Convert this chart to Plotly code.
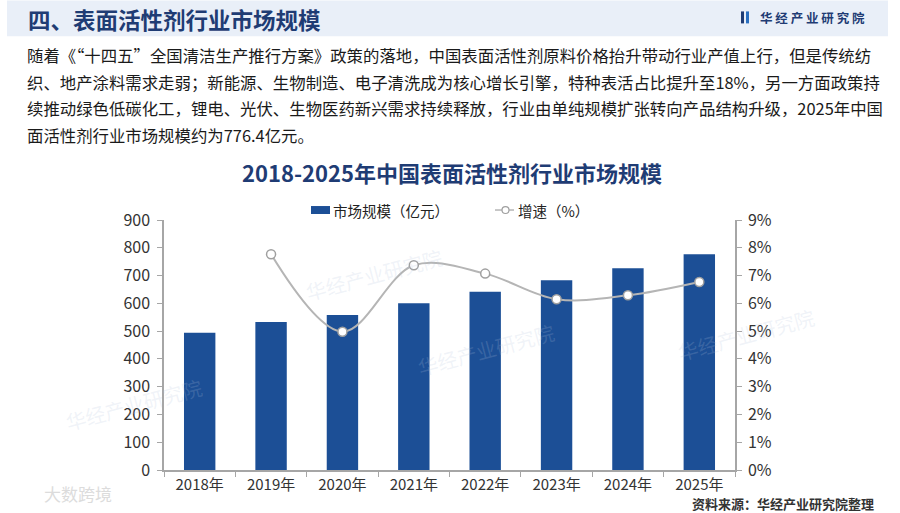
import plotly.graph_objects as go

years = ["2018年", "2019年", "2020年", "2021年", "2022年", "2023年", "2024年", "2025年"]
market_size = [494, 533, 558, 600, 642, 683, 726, 776.4]
growth_years = ["2019年", "2020年", "2021年", "2022年", "2023年", "2024年", "2025年"]
growth_rate = [7.77, 4.98, 7.37, 7.07, 6.15, 6.29, 6.77]

W, H = 900, 513
L, R, T, B = 164, 735, 220, 470.5

def px_x(x):
    return (x - L) / (R - L)

def px_y(y):
    return (B - y) / (B - T)

FONT = "Noto Sans CJK SC"
BLUE = "#1c4f96"
DARK = "#1f3c74"
GRAY_LINE = "#b5b5b5"

fig = go.Figure()
fig.add_trace(go.Bar(
    x=years, y=market_size, name="市场规模（亿元）",
    marker=dict(color=BLUE, line=dict(width=0)), width=0.44, showlegend=False,
))
fig.add_trace(go.Scatter(
    x=growth_years, y=growth_rate, name="增速（%）", yaxis="y2",
    mode="lines+markers", showlegend=False,
    line=dict(color=GRAY_LINE, width=2, shape="spline", smoothing=1.0),
    marker=dict(symbol="circle", size=9, color="white",
                line=dict(color="#a0a0a0", width=1.5)),
))

shapes = [
    dict(type="rect", xref="paper", yref="paper",
         x0=px_x(7), x1=px_x(888), y0=px_y(36), y1=px_y(0),
         fillcolor="#e9eff8", line=dict(width=0), layer="below"),
    # logo mark
    dict(type="rect", xref="paper", yref="paper",
         x0=px_x(741), x1=px_x(744), y0=px_y(23), y1=px_y(11),
         fillcolor="#1f3c74", line=dict(width=0)),
    dict(type="rect", xref="paper", yref="paper",
         x0=px_x(746), x1=px_x(749), y0=px_y(23), y1=px_y(11),
         fillcolor="#2a6fc0", line=dict(width=0)),
    # manual legend
    dict(type="rect", xref="paper", yref="paper",
         x0=px_x(311), x1=px_x(330), y0=px_y(214), y1=px_y(206),
         fillcolor=BLUE, line=dict(width=0)),
    dict(type="line", xref="paper", yref="paper",
         x0=px_x(495), x1=px_x(514), y0=px_y(210), y1=px_y(210),
         line=dict(color=GRAY_LINE, width=1.5)),
    dict(type="circle", xref="paper", yref="paper",
         x0=px_x(502), x1=px_x(509), y0=px_y(213.5), y1=px_y(206.5),
         fillcolor="white", line=dict(color="#a0a0a0", width=1.2)),
]

annotations = [
    dict(text="<b>四、表面活性剂行业市场规模</b>", x=px_x(26), y=px_y(19),
         xref="paper", yref="paper", xanchor="left", yanchor="middle",
         showarrow=False, font=dict(family=FONT, size=22.5, color=DARK)),
    dict(text="<b>华 经 产 业 研 究 院</b>", x=px_x(758), y=px_y(17),
         xref="paper", yref="paper", xanchor="left", yanchor="middle",
         showarrow=False, font=dict(family=FONT, size=12.5, color="#1f3c74")),
    dict(text="<b>2018-2025年中国表面活性剂行业市场规模</b>", x=px_x(452), y=px_y(172),
         xref="paper", yref="paper", xanchor="center", yanchor="middle",
         showarrow=False, font=dict(family=FONT, size=22, color=DARK)),
    dict(text="市场规模（亿元）", x=px_x(331), y=px_y(210),
         xref="paper", yref="paper", xanchor="left", yanchor="middle",
         showarrow=False, font=dict(family=FONT, size=14.5, color="#222222")),
    dict(text="增速（%）", x=px_x(516), y=px_y(210),
         xref="paper", yref="paper", xanchor="left", yanchor="middle",
         showarrow=False, font=dict(family=FONT, size=14.5, color="#222222")),
    dict(text="<b>资料来源：华经产业研究院整理</b>", x=px_x(876), y=px_y(504),
         xref="paper", yref="paper", xanchor="right", yanchor="middle",
         showarrow=False, font=dict(family=FONT, size=13, color="#333333")),
    dict(text="大数跨境", x=px_x(42), y=px_y(494),
         xref="paper", yref="paper", xanchor="left", yanchor="middle",
         showarrow=False, font=dict(family=FONT, size=17, color="#dcdcdc")),
]

para = [
    "随着《“十四五”全国清洁生产推行方案》政策的落地，中国表面活性剂原料价格抬升带动行业产值上行，但是传统纺",
    "织、地产涂料需求走弱；新能源、生物制造、电子清洗成为核心增长引擎，特种表活占比提升至18%，另一方面政策持",
    "续推动绿色低碳化工，锂电、光伏、生物医药新兴需求持续释放，行业由单纯规模扩张转向产品结构升级，2025年中国",
    "面活性剂行业市场规模约为776.4亿元。",
]
for i, line in enumerate(para):
    annotations.append(dict(
        text=line, x=px_x(25), y=px_y(55 + 26.5 * i), xref="paper", yref="paper",
        xanchor="left", yanchor="middle", showarrow=False,
        font=dict(family=FONT, size=16.4, color="#1a1a1a")))

# faint watermarks
for (wx, wy) in [(300, 240), (560, 350), (60, 440), (820, 300)]:
    annotations.append(dict(
        text="华经产业研究院", x=px_x(wx), y=px_y(wy), xref="paper", yref="paper",
        showarrow=False, textangle=-15,
        font=dict(family=FONT, size=20, color="rgba(180,195,220,0.2)")))

fig.update_layout(
    width=W, height=H,
    margin=dict(l=L, r=W - R, t=T, b=H - B, pad=0),
    paper_bgcolor="white", plot_bgcolor="white",
    font=dict(family=FONT, size=14, color="#333333"),
    showlegend=False,
    bargap=0.56,
    xaxis=dict(type="category", showline=True, linecolor="#a6a6a6", linewidth=1.5,
               ticks="outside", ticklen=5, tickcolor="#a6a6a6", tickson="boundaries",
               showgrid=False, tickfont=dict(family=FONT, size=15, color="#333333")),
    yaxis=dict(range=[0, 900], dtick=100, showline=True, linecolor="#a6a6a6",
               linewidth=1.5, ticks="outside", ticklen=5, tickcolor="#a6a6a6",
               ticklabelstandoff=4,
               showgrid=False, zeroline=False,
               tickfont=dict(family=FONT, size=16, color="#333333")),
    yaxis2=dict(range=[0, 9], dtick=1, overlaying="y", side="right",
                ticksuffix="%", showline=True, linecolor="#a6a6a6", linewidth=1.5,
                ticks="outside", ticklen=5, tickcolor="#a6a6a6",
                ticklabelstandoff=3,
                showgrid=False, zeroline=False,
                tickfont=dict(family=FONT, size=16, color="#333333")),
    shapes=shapes, annotations=annotations,
)

fig.write_html("out.html", config={"displayModeBar": False},
               post_script="document.body.style.margin='0';document.body.style.overflow='hidden';")
